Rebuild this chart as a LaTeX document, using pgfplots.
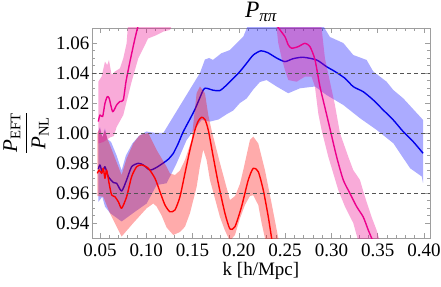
\documentclass[border=0pt]{standalone}
\usepackage{amsmath}
\usepackage{fontspec}
\setmainfont{Liberation Serif}
\usepackage{pgfplots}
\pgfplotsset{compat=1.18}
\definecolor{bandB}{rgb}{0,0,1}
\definecolor{lineB}{rgb}{0,0,0.92}
\definecolor{frameG}{rgb}{0.62,0.62,0.62}
\definecolor{dashG}{rgb}{0.33,0.33,0.33}
\begin{document}
\begin{tikzpicture}
\begin{axis}[
  at={(0,0)}, anchor=south west,
  scale only axis, width=338pt, height=210pt,
  xmin=0.0414, xmax=0.4065, ymin=0.93, ymax=1.07,
  axis line style={frameG, line width=0.6pt},
  tick style={frameG, line width=0.5pt},
  major tick length=5pt, minor tick length=3pt,
  xtick={0.05,0.1,0.15,0.2,0.25,0.3,0.35,0.4},
  xticklabels={0.05,0.10,0.15,0.20,0.25,0.30,0.35,0.40},
  ytick={0.94,0.96,0.98,1.00,1.02,1.04,1.06},
  yticklabels={0.94,0.96,0.98,1.00,1.02,1.04,1.06},
  minor x tick num=4, minor y tick num=3,
  tick label style={font=\fontsize{19}{22}\selectfont, black},
  yticklabel style={anchor=east, inner sep=0pt, xshift=-2.5pt},
  xticklabel style={anchor=north, inner sep=0pt, yshift=-6pt},
  xlabel={k [h/Mpc]},
  xlabel style={font=\fontsize{19}{22}\selectfont, at={(axis description cs:0.5,-0.1762)}, anchor=base, inner sep=0pt},
  ylabel={$\dfrac{\textit{P}_{\text{EFT}}}{\textit{P}_{\text{NL}}}$},
  ylabel style={font=\fontsize{21}{25}\selectfont, at={(axis description cs:-0.1953,0.5)}, anchor=center, inner sep=0pt},
  title={\textit{P}\raisebox{-0.16em}{\fontsize{17}{19}\selectfont\textit{ππ}}},
  title style={font=\fontsize{23.5}{26}\selectfont, at={(axis description cs:0.5,1.0195)}, anchor=base, inner sep=0pt},
]
% ---------- blue band + line ----------
\addplot[fill=bandB, fill opacity=0.33, draw=none] coordinates {
(0.0482,1.001) (0.050,1.004) (0.0525,0.997) (0.0554,1.003) (0.058,0.996) (0.062,0.994) (0.068,0.985) (0.0734,0.975) (0.078,0.985) (0.085,0.993) (0.092,0.998) (0.1,1.001) (0.11,1.0) (0.1184,1.0) (0.158,1.04) (0.1634,1.049) (0.168,1.05) (0.172,1.0487) (0.181,1.0531) (0.1904,1.0553) (0.2048,1.0642) (0.212,1.075) (0.2876,1.075) (0.2984,1.064) (0.3128,1.06) (0.3236,1.052) (0.338,1.0487) (0.3452,1.041) (0.3596,1.0342) (0.3668,1.0287) (0.3776,1.0231) (0.3956,1.011) (0.399,1.0087)
(0.399,0.9665) (0.3976,0.971) (0.385,0.9765) (0.367,0.9931) (0.349,1.002) (0.331,1.0098) (0.3128,1.0187) (0.2948,1.0253) (0.2822,1.031) (0.266,1.0298) (0.2534,1.0265) (0.2408,1.031) (0.23,1.0353) (0.2228,1.034) (0.2156,1.029) (0.2084,1.023) (0.2012,1.02) (0.194,1.015) (0.1868,1.0125) (0.178,1.009) (0.1688,1.0076) (0.1598,1.0087) (0.1436,0.9953) (0.1328,0.9798) (0.122,0.9665) (0.1112,0.9653) (0.1004,0.953) (0.086,0.9467) (0.0734,0.941) (0.0608,0.9467) (0.0554,0.951) (0.0525,0.9575) (0.0482,0.954)
} -- cycle;
\addplot[lineB, line width=1.4pt, smooth, tension=0.4, line join=round] coordinates {
(0.0482,0.9758) (0.050,0.9787) (0.0525,0.974) (0.0554,0.9775) (0.059,0.971) (0.0644,0.967) (0.068,0.9665) (0.0734,0.9613) (0.0788,0.9687) (0.0842,0.9775) (0.0914,0.9798) (0.0968,0.9787) (0.104,0.9753) (0.1112,0.9771) (0.1184,0.980) (0.1238,0.9825) (0.1292,0.9864) (0.1346,0.9931) (0.140,1.0009) (0.152,1.015) (0.1616,1.0287) (0.1652,1.0298) (0.1724,1.0285) (0.1796,1.0283) (0.1868,1.032) (0.194,1.0365) (0.2012,1.041) (0.2084,1.0465) (0.2156,1.052) (0.2239,1.0548) (0.2314,1.0535) (0.2408,1.050) (0.2498,1.0476) (0.2584,1.0495) (0.2692,1.0505) (0.284,1.0487) (0.2948,1.0442) (0.3038,1.041) (0.3146,1.0365) (0.3236,1.0309) (0.3344,1.0275) (0.3452,1.022) (0.356,1.0153) (0.3668,1.0087) (0.3776,1.0009) (0.3884,0.9942) (0.399,0.9865)
};
% ---------- red band + line ----------
\addplot[fill=red, fill opacity=0.33, draw=none] coordinates {
(0.0471,1.0) (0.050,1.003) (0.0525,0.997) (0.0554,1.002) (0.058,0.996) (0.0608,0.992) (0.067,0.982) (0.0734,0.972) (0.0788,0.983) (0.086,0.993) (0.0932,0.9987) (0.1022,1.0) (0.1112,0.9887) (0.122,0.9775) (0.1256,0.973) (0.131,0.972) (0.1364,0.975) (0.1418,0.982) (0.149,0.9953) (0.1544,1.0265) (0.158,1.031) (0.1634,1.0265) (0.167,1.012) (0.1705,1.002) (0.1796,0.98) (0.1904,0.9553) (0.196,0.958) (0.2012,0.966) (0.2048,0.9753) (0.212,0.9953) (0.2156,0.9976) (0.221,0.993) (0.2282,0.9753) (0.2354,0.953) (0.2426,0.93) (0.246,0.92)
(0.2426,0.905) (0.236,0.915) (0.2282,0.93) (0.2246,0.94) (0.221,0.952) (0.2156,0.9585) (0.212,0.958) (0.2066,0.952) (0.2012,0.943) (0.1958,0.932) (0.1904,0.928) (0.185,0.935) (0.1796,0.944) (0.1688,0.9687) (0.1652,0.982) (0.1616,0.989) (0.158,0.978) (0.1544,0.964) (0.1472,0.9465) (0.1418,0.9375) (0.1364,0.934) (0.1292,0.932) (0.122,0.937) (0.1166,0.945) (0.1112,0.951) (0.1076,0.953) (0.1004,0.9498) (0.086,0.94) (0.0734,0.931) (0.0608,0.9465) (0.0536,0.9575) (0.0471,0.958)
} -- cycle;
\addplot[red, line width=1.4pt, smooth, tension=0.4, line join=round] coordinates {
(0.0471,0.9731) (0.0492,0.9753) (0.0518,0.9731) (0.0536,0.9765) (0.0554,0.9698) (0.0572,0.9753) (0.0600,0.966) (0.0626,0.9587) (0.0662,0.9575) (0.070,0.954) (0.0734,0.9498) (0.0788,0.9575) (0.0842,0.9709) (0.0896,0.9775) (0.095,0.9787) (0.1022,0.9765) (0.1094,0.9698) (0.1148,0.9609) (0.1202,0.952) (0.1256,0.9475) (0.131,0.9487) (0.1364,0.9575) (0.1418,0.9731) (0.1472,0.9887) (0.1526,1.002) (0.1562,1.008) (0.1598,1.0105) (0.1634,1.009) (0.1670,1.002) (0.1724,0.984) (0.1778,0.9665) (0.185,0.9465) (0.1904,0.936) (0.1958,0.9375) (0.203,0.951) (0.2102,0.9687) (0.2156,0.9765) (0.221,0.9742) (0.2264,0.962) (0.2318,0.9442) (0.2354,0.93) (0.239,0.918)
};
% ---------- magenta bands + lines ----------
\addplot[fill=magenta, fill opacity=0.33, draw=none] coordinates {
(0.0482,1.0342) (0.0518,1.0376) (0.0554,1.0476) (0.0579,1.0453) (0.0597,1.0487) (0.0626,1.0387) (0.0662,1.041) (0.0716,1.0431) (0.0752,1.0498) (0.0788,1.0598) (0.0806,1.075)
(0.13,1.075) (0.1256,1.0687) (0.1184,1.0676) (0.1112,1.0653) (0.102,1.063) (0.0968,1.0565) (0.0914,1.0498) (0.0842,1.0342) (0.0788,1.021) (0.0752,1.012) (0.068,1.004) (0.065,0.998) (0.0608,0.997) (0.0536,0.994) (0.0482,0.993)
} -- cycle;
\addplot[magenta, line width=1.4pt, smooth, tension=0.4, line join=round] coordinates {
(0.0482,1.0076) (0.050,1.012) (0.0529,1.011) (0.0554,1.0198) (0.0579,1.0242) (0.060,1.0231) (0.0637,1.0142) (0.068,1.0187) (0.0716,1.021) (0.0752,1.022) (0.0781,1.0342) (0.0824,1.0476) (0.0878,1.063) (0.0914,1.072) (0.093,1.076)
};
\addplot[fill=magenta, fill opacity=0.33, draw=none] coordinates {
(0.2876,1.08) (0.2898,1.0676) (0.293,1.0498) (0.2984,1.0342) (0.3038,1.0187) (0.3092,1.0) (0.3182,0.9842) (0.3236,0.9753) (0.3308,0.9687) (0.3362,0.9575) (0.3434,0.944) (0.3488,0.9353) (0.3524,0.928) (0.356,0.92)
(0.332,0.92) (0.329,0.928) (0.3236,0.94) (0.3146,0.951) (0.3074,0.962) (0.302,0.9731) (0.2966,0.9842) (0.2894,1.002) (0.2858,1.0131) (0.2822,1.031) (0.2786,1.0376) (0.2714,1.0376) (0.2625,1.0342) (0.2534,1.0353) (0.2498,1.042) (0.2462,1.05) (0.2426,1.06) (0.239,1.08)
} -- cycle;
\addplot[magenta, line width=1.4pt, smooth, tension=0.4, line join=round] coordinates {
(0.238,1.08) (0.2409,1.072) (0.2498,1.0642) (0.2534,1.0587) (0.2571,1.0565) (0.2642,1.0576) (0.2714,1.0598) (0.2768,1.0576) (0.2822,1.049) (0.2876,1.031) (0.293,1.017) (0.2984,1.003) (0.3056,0.9842) (0.3128,0.9687) (0.32,0.9598) (0.3272,0.951) (0.3344,0.944) (0.3398,0.9353) (0.3434,0.93) (0.347,0.925)
};
% ---------- dashed reference lines ----------
\addplot[dashG, line width=0.7pt, dash pattern=on 4pt off 3pt] coordinates {(0.0414,0.96) (0.4065,0.96)};
\addplot[dashG, line width=0.7pt, dash pattern=on 4pt off 3pt] coordinates {(0.0414,1.00) (0.4065,1.00)};
\addplot[dashG, line width=0.7pt, dash pattern=on 4pt off 3pt] coordinates {(0.0414,1.04) (0.4065,1.04)};
\end{axis}
\pgfresetboundingbox
\useasboundingbox (-92pt,-48pt) rectangle (349pt,238pt);
\end{tikzpicture}
\end{document}
